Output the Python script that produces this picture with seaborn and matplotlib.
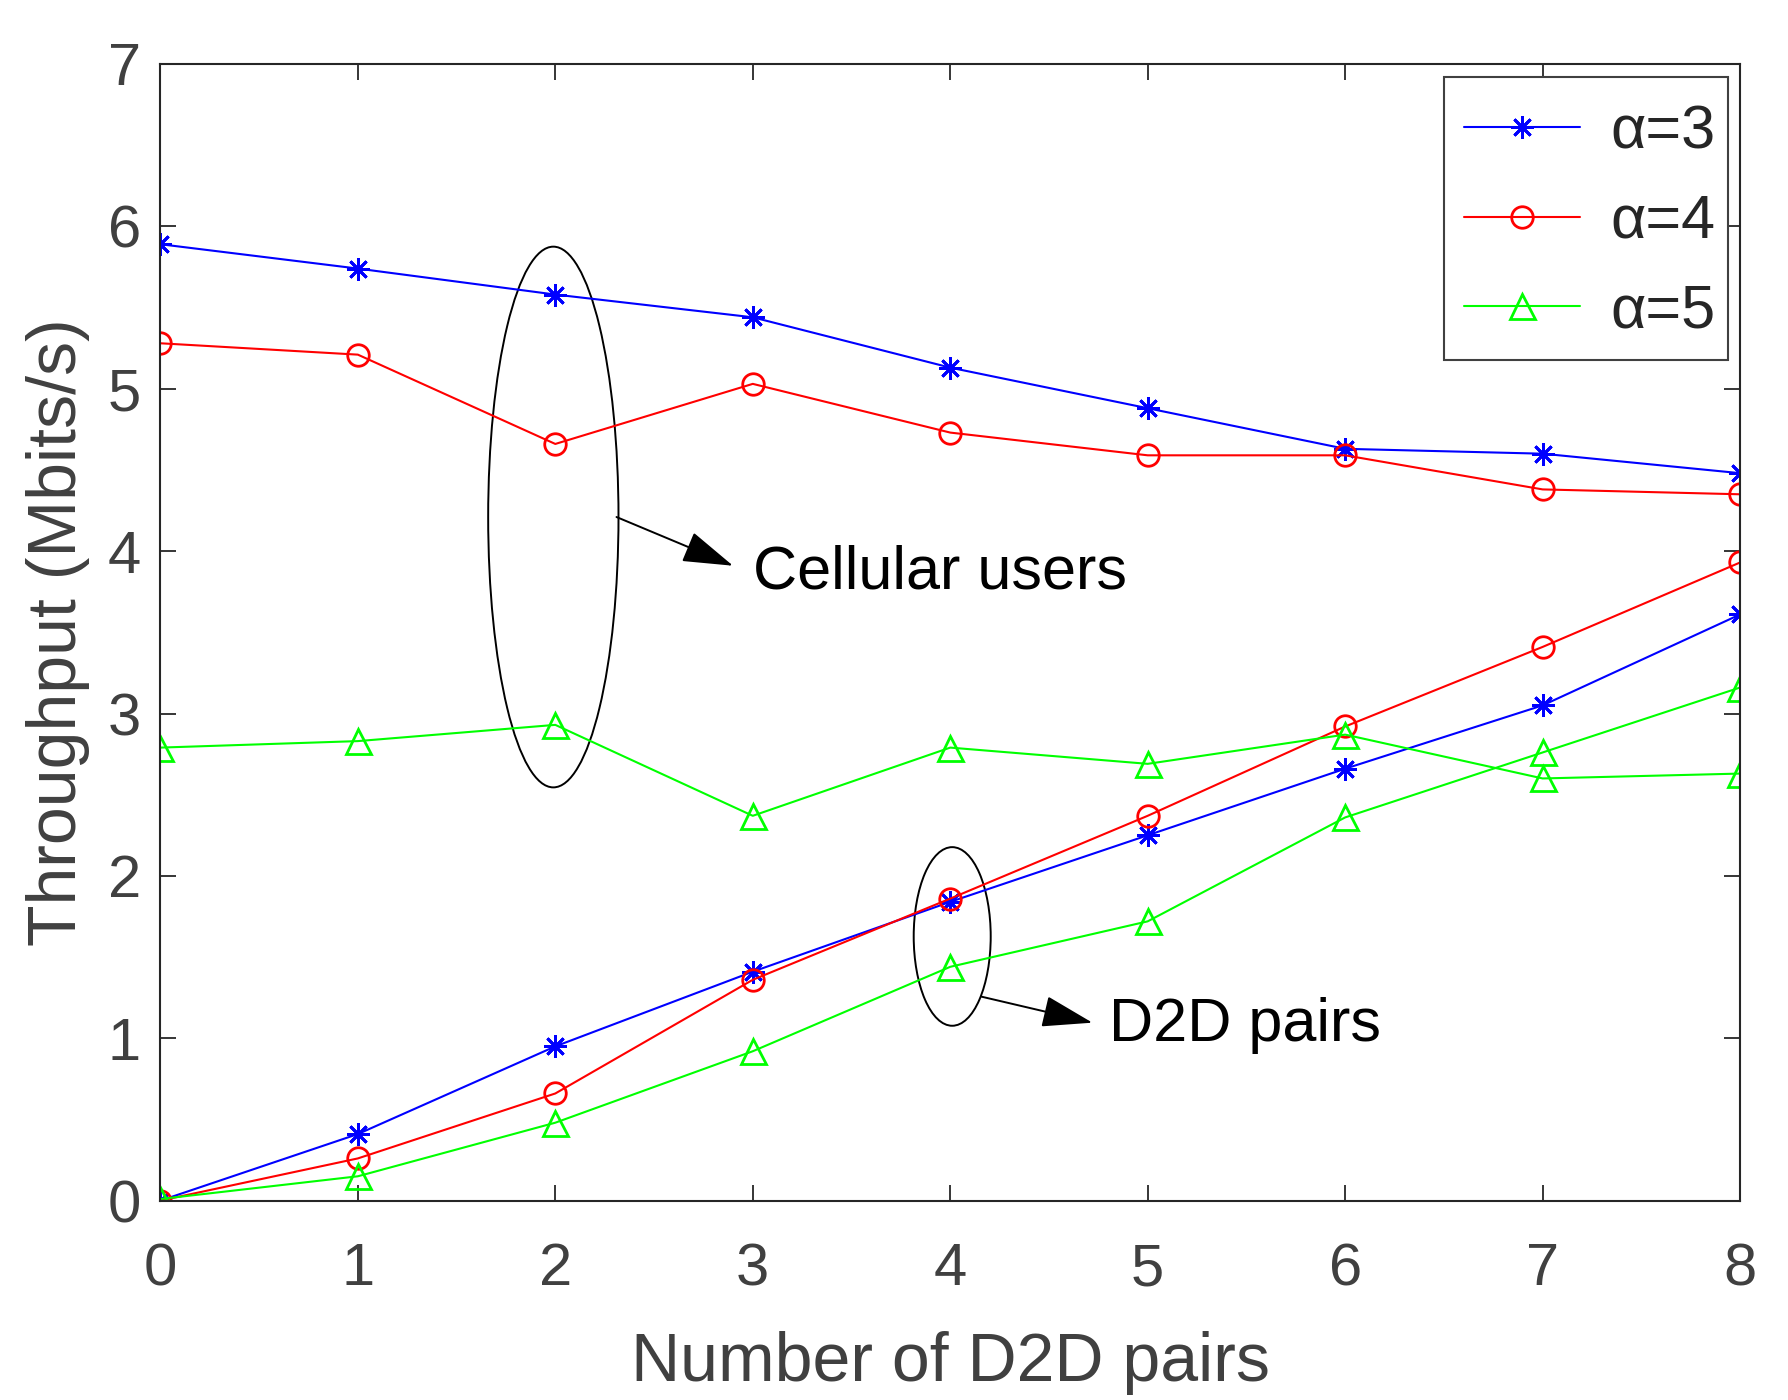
import numpy as np
import pandas as pd
import matplotlib
matplotlib.use("Agg")
import matplotlib.pyplot as plt
import seaborn as sns
from matplotlib.patches import Ellipse
from matplotlib.path import Path

# ---------------- data ----------------
num_pairs = [0, 1, 2, 3, 4, 5, 6, 7, 8]
series_labels = ["α=3", "α=4", "α=5"]

cellular_a3 = [5.89, 5.74, 5.58, 5.44, 5.13, 4.88, 4.63, 4.60, 4.48]
cellular_a4 = [5.28, 5.21, 4.66, 5.03, 4.73, 4.59, 4.59, 4.38, 4.35]
cellular_a5 = [2.79, 2.83, 2.93, 2.37, 2.79, 2.69, 2.87, 2.60, 2.63]

d2d_a3 = [0.00, 0.41, 0.95, 1.41, 1.84, 2.25, 2.66, 3.05, 3.61]
d2d_a4 = [0.00, 0.26, 0.66, 1.36, 1.86, 2.37, 2.92, 3.41, 3.93]
d2d_a5 = [0.01, 0.15, 0.48, 0.92, 1.44, 1.72, 2.36, 2.76, 3.16]

x_ticks = [0, 1, 2, 3, 4, 5, 6, 7, 8]
y_ticks = [0, 1, 2, 3, 4, 5, 6, 7]
x_label = "Number of D2D pairs"
y_label = "Throughput (Mbits/s)"
note_cell = "Cellular users"
note_d2d = "D2D pairs"

# ---------------- style ----------------
sns.set_style("ticks")
plt.rcParams["font.family"] = ["Liberation Sans", "DejaVu Sans"]

colors = {"α=3": "#0000FF", "α=4": "#FF0000", "α=5": "#00FF00"}
markers = {"α=3": (8, 2, 0), "α=4": "o", "α=5": "^"}
msizes = {"α=3": 16.5, "α=4": 15.5, "α=5": 18}

rows = []
for lab, cy, dy in zip(series_labels,
                       [cellular_a3, cellular_a4, cellular_a5],
                       [d2d_a3, d2d_a4, d2d_a5]):
    for xv, yv in zip(num_pairs, cy):
        rows.append({"x": xv, "y": yv, "alpha": lab, "group": "cellular"})
    for xv, yv in zip(num_pairs, dy):
        rows.append({"x": xv, "y": yv, "alpha": lab, "group": "d2d"})
df = pd.DataFrame(rows)

fig = plt.figure(figsize=(17.88, 14), dpi=100)
ax = fig.add_axes([0.0897, 0.1424, 0.9732 - 0.0897, 0.9543 - 0.1424])

for lab in series_labels:
    for gi, grp in enumerate(["cellular", "d2d"]):
        sub = df[(df["alpha"] == lab) & (df["group"] == grp)]
        sns.lineplot(data=sub, x="x", y="y", ax=ax, color=colors[lab],
                     marker=markers[lab], ms=msizes[lab], mfc="none",
                     mec=colors[lab], mew=2.0, lw=1.5, estimator=None,
                     sort=False, label=lab if gi == 0 else None,
                     legend=False)

ax.set_xlim(0, 8)
ax.set_ylim(0, 7)
ax.set_xticks(x_ticks)
ax.set_yticks(y_ticks)

spine_c = "#262626"
text_c = "#404040"
for s in ax.spines.values():
    s.set_visible(True)
    s.set_color(spine_c)
    s.set_linewidth(1.5)
ax.tick_params(axis="both", which="both", direction="in", length=11.5,
               width=1.3, color=spine_c, labelsize=43, labelcolor=text_c,
               top=True, right=True)
ax.tick_params(axis="x", pad=30)
ax.tick_params(axis="y", pad=14)

ax.set_xlabel(x_label, fontsize=49, color=text_c, labelpad=24)
ax.set_ylabel(y_label, fontsize=49, color=text_c, labelpad=13)

# ellipses
ax.add_patch(Ellipse((1.99, 4.21), 0.66, 3.33, fill=False, ec="black", lw=1.4))
ax.add_patch(Ellipse((4.01, 1.627), 0.39, 1.10, fill=False, ec="black", lw=1.4))

arrow_kw = dict(arrowstyle="-|>,head_length=1.6,head_width=0.5",
                color="black", lw=1.4, mutation_scale=20,
                shrinkA=0, shrinkB=0)
ax.annotate("", xy=(2.90, 3.91), xytext=(2.31, 4.21), arrowprops=arrow_kw)
ax.annotate("", xy=(4.72, 1.096), xytext=(4.159, 1.256), arrowprops=arrow_kw)
ax.text(3.0, 3.77, note_cell, fontsize=44, color="black", va="baseline", ha="left")
ax.text(4.804, 0.983, note_d2d, fontsize=44, color="black", va="baseline", ha="left")

leg = ax.legend(loc="upper right", bbox_to_anchor=(0.9924, 0.9751),
                bbox_transform=ax.transAxes, fontsize=44, handlelength=1.9,
                handletextpad=0.5, labelspacing=0.53, borderpad=0.2,
                borderaxespad=0.0, fancybox=False, framealpha=1.0,
                edgecolor="#404040")
leg.get_frame().set_linewidth(1.5)


def tall_box(x0, y0, width, height, mutation_size):
    s = fig.dpi / 100.0
    top, bot, left = 15.0 * s, 7.0 * s, 8.0 * s
    verts = [(x0 - left, y0 - bot), (x0 + width, y0 - bot),
             (x0 + width, y0 + height + top), (x0 - left, y0 + height + top),
             (x0 - left, y0 - bot)]
    codes = [Path.MOVETO, Path.LINETO, Path.LINETO, Path.LINETO,
             Path.CLOSEPOLY]
    return Path(verts, codes)


leg.get_frame().set_boxstyle(tall_box)

fig.savefig("out.png", dpi=100)
